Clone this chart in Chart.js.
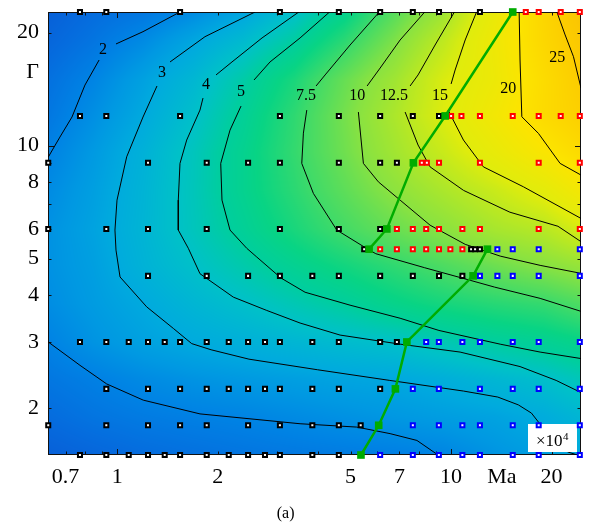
<!DOCTYPE html>
<html>
<head>
<meta charset="utf-8">
<script src="https://cdn.jsdelivr.net/npm/chart.js@4.4.0/dist/chart.umd.min.js"></script>
<style>
  html, body { margin: 0; padding: 0; background: #fff; }
</style>
</head>
<body>
<canvas id="nuChart" width="589" height="526"></canvas>
<script>
// Axis ticks (Ma in units of 1e4)
const xTickValues = [0.7, 1, 2, 5, 7, 10, 14.2, 20];
const xTickLabels = ['0.7', '1', '2', '5', '7', '10', 'Ma', '20'];
const yTickValues = [2, 3, 4, 5, 6, 8, 10, 15.7, 20];
const yTickLabels = ['2', '3', '4', '5', '6', '8', '10', 'Γ', '20'];
const xTickMarks = [0.7, 0.8, 0.9, 1, 2, 3, 4, 5, 6, 7, 8, 9, 10, 20];
const yTickMarks = [2, 3, 4, 5, 6, 7, 8, 9, 10, 20];

// Background field grid: Nu sampled at these Ma / Gamma nodes
const gridMa = [0.62, 0.85, 1.2, 1.7, 2.4, 3.4, 4.8, 6.8, 9.5, 13.5, 19, 24.5];
const gridGamma = [1.5, 1.9, 2.4, 3, 3.8, 4.8, 6, 7.6, 9.6, 12, 15, 19, 22.7];
const nuG1_5 = [1.2, 1.35, 1.5, 1.6, 1.7, 1.78, 1.85, 1.92, 2.05, 2.4, 2.7, 3.0];
const nuG1_9 = [1.5, 1.7, 1.85, 1.96, 2.05, 2.2, 2.35, 2.5, 2.65, 2.8, 3.1, 3.5];
const nuG2_4 = [1.75, 1.95, 2.2, 2.4, 2.55, 2.7, 2.85, 2.95, 3.2, 3.55, 3.9, 4.4];
const nuG3_0 = [2.0, 2.4, 2.75, 3.03, 3.26, 3.51, 3.76, 4.0, 4.49, 5.0, 5.4, 5.85];
const nuG3_8 = [2.25, 2.6, 3.0, 3.5, 3.95, 4.5, 5.05, 5.8, 6.4, 6.9, 7.3, 8.1];
const nuG4_8 = [2.35, 2.7, 3.35, 3.97, 4.7, 5.5, 6.3, 7.15, 8.06, 9.1, 10.05, 10.8];
const nuG6_0 = [2.35, 2.8, 3.45, 4.3, 5.3, 6.5, 7.75, 9.0, 10.2, 11.7, 12.6, 14.4];
const nuG7_6 = [2.2, 2.7, 3.4, 4.35, 5.6, 7.0, 8.6, 10.3, 11.9, 13.6, 15.7, 18.4];
const nuG9_6 = [1.98, 2.55, 3.3, 4.3, 5.6, 7.25, 9.2, 11.4, 13.6, 16.4, 19.5, 22];
const nuG12 = [1.75, 2.3, 3.0, 3.94, 5.29, 7.1, 9.4, 11.97, 14.8, 18.2, 22, 24.2];
const nuG15 = [1.6, 2.05, 2.75, 3.55, 4.8, 6.5, 8.9, 11.3, 14.6, 17.2, 21.8, 25];
const nuG19 = [1.35, 1.7, 2.2, 2.9, 3.7, 4.95, 7.0, 9.7, 13, 17.5, 22.7, 26];
const nuG22_7 = [1.2, 1.5, 1.75, 2.2, 2.85, 3.9, 5.6, 8.4, 11.2, 16.7, 23, 27];
const nuField = [nuG1_5, nuG1_9, nuG2_4, nuG3_0, nuG3_8, nuG4_8, nuG6_0,
                 nuG7_6, nuG9_6, nuG12, nuG15, nuG19, nuG22_7];

// Colour scale for Nu
const colourLevels = [1, 1.5, 2, 2.5, 3, 4, 5, 6, 7.5, 10, 12.5, 15, 20, 25, 30];
const colourRGB = [
  [10, 88, 212], [5, 108, 222], [0, 130, 228], [0, 152, 226], [0, 170, 222],
  [0, 193, 200], [0, 206, 158], [8, 212, 132], [60, 218, 106], [135, 226, 66],
  [182, 232, 36], [224, 236, 12], [252, 228, 0], [252, 204, 0], [246, 184, 8]
];

// Simulation runs: Gamma of each row and Ma of the runs in it
const gammaRows = [22.7, 12, 9, 6, 5.3, 4.5, 3, 2.25, 1.8, 1.5];
const blackMa = [
  [0.773, 0.927, 1.542, 3.07, 4.61, 6.13, 7.68, 9.2, 12.2],
  [0.773, 0.927, 1.542, 3.07, 4.61, 6.13, 7.68, 9.2],
  [0.621, 1.236, 1.853, 2.465, 3.07, 4.61, 6.13, 6.88],
  [0.621, 0.927, 1.236, 1.853, 3.07, 4.61, 6.13],
  [5.49, 11.48, 11.8, 12.2],
  [1.236, 1.853, 2.465, 3.07, 3.84, 4.61, 6.13, 7.68, 9.2, 10.81],
  [0.773, 0.927, 1.082, 1.236, 1.387, 1.542, 1.853, 2.157, 2.465, 2.77, 3.07, 3.84, 4.61, 6.13, 6.88],
  [0.927, 1.236, 1.542, 1.853, 2.157, 2.465, 2.77, 3.07, 3.84, 4.61, 6.13],
  [0.621, 0.927, 1.236, 1.542, 1.853, 2.465, 3.07, 3.84, 4.61, 5.36],
  [0.773, 0.927, 1.082, 1.236, 1.387, 1.542, 1.853, 2.157, 2.465, 2.77, 3.07, 3.84, 4.61]
];
const redMa = [
  [16.74, 18.3, 21.3, 24.3],
  [10.0, 10.74, 12.2, 15.3, 18.3, 21.3, 24.3],
  [8.17, 8.46, 9.2, 12.2, 18.3, 24.3],
  [6.88, 7.68, 8.42, 9.2, 10.81, 12.2, 18.3, 24.3],
  [6.13, 6.88, 7.68, 8.42, 9.2, 9.95, 10.81],
  [], [], [], [], []
];
const blueMa = [
  [], [], [], [],
  [13.76, 15.3, 18.3, 24.3],
  [12.2, 13.76, 15.3, 18.3, 24.3],
  [8.42, 9.19, 10.81, 12.2, 15.3, 18.3, 24.3],
  [7.68, 9.19, 12.2, 15.3, 18.3, 24.3],
  [7.68, 9.19, 10.81, 12.2, 15.3, 18.3, 24.3],
  [6.13, 7.68, 9.19, 10.81, 12.2, 15.3, 18.3, 24.3]
];

// Transition branches (green)
const greenUpperMa = [5.68, 6.42, 7.71, 9.6, 15.3];
const greenUpperGamma = [5.3, 6, 9, 12, 22.7];
const greenLowerMa = [5.37, 6.07, 6.81, 7.37, 11.64, 12.85];
const greenLowerGamma = [1.5, 1.8, 2.25, 3, 4.5, 5.3];

// Iso-Nu lines as [Ma, Gamma]; null marks the break under a label
const contour2a = [[1.541, 22.7], [1.194, 20.12], [0.991, 18.66], null,
  [0.882, 16.91], [0.80, 14.5], [0.7315, 11.92], [0.673, 10.54], [0.621, 9.32]];
const contour2b = [[0.621, 3.0], [0.773, 2.6], [0.929, 2.32], [1.196, 2.1], [1.769, 1.93],
  [3.528, 1.817], [5.217, 1.78], [6.565, 1.71], [7.9, 1.64], [9.142, 1.5]];
const contour3 = [[2.586, 22.7], [1.831, 19.51], [1.439, 16.71], null,
  [1.315, 14.42], [1.194, 11.92], [1.067, 9.34], [0.998, 7.16], [0.984, 5.96], [0.991, 5.27],
  [1.019, 4.47], [1.225, 3.72], [1.472, 3.26], [1.671, 2.97], [1.91, 2.86], [2.48, 2.7],
  [3.98, 2.53], [6.55, 2.37], [10.9, 2.22], [13.8, 2.14], [15.9, 2.04], [17.4, 1.94],
  [18.5, 1.81], [19.8, 1.64], [22.41, 1.527], [24.5, 1.49]];
const contour4 = [[3.497, 22.7], [2.714, 19.36], [2.206, 16.71], [1.976, 15.43], null,
  [1.806, 13.39], [1.769, 12.44], [1.614, 10.35], [1.541, 8.97], [1.523, 7.16], [1.523, 5.96],
  [1.632, 5.33], [1.769, 4.56], [2.226, 3.95], [2.804, 3.64], [3.528, 3.37], [4.65, 3.13],
  [7.035, 2.96], [10.64, 2.82], [16.09, 2.58], [20.64, 2.37], [24.5, 2.2]];
const contour5 = [[4.324, 22.7], [3.528, 19.36], [2.868, 16.71], [2.568, 14.96], null,
  [2.348, 12.75], [2.176, 11.0], [2.041, 8.97], [2.059, 7.16], [2.176, 5.96], [2.442, 5.33],
  [2.618, 5.05], [3.094, 4.44], [3.652, 4.07], [4.98, 3.76], [7.035, 3.47], [9.195, 3.22],
  [14.03, 2.96], [18.48, 2.82], [24.5, 2.71]];
const contour7_5 = [[6.093, 22.7], [4.982, 18.54], [4.193, 15.43], [3.94, 14.42], null,
  [3.695, 12.44], [3.61, 10.8], [3.57, 8.97], [3.868, 7.46], [4.545, 5.96], [5.591, 5.32],
  [5.948, 5.155], [8.336, 4.73], [11.4, 4.38], [13.5, 4.2], [18.48, 3.92], [24.5, 3.62]];
const contour10 = [[8.336, 22.7], [7.035, 19.12], [6.13, 16.1], [5.602, 14.42], null,
  [5.275, 12.29], [5.461, 8.97], [6.055, 8.01], [7.035, 7.16], [8.651, 6.14], [11.02, 5.46],
  [14.03, 5.08], [18.48, 4.8], [24.5, 4.57]];
const contour12_5 = [[10.23, 22.7], [8.954, 18.54], [7.962, 15.43], [7.536, 14.42], null,
  [7.282, 12.29], [7.962, 10.04], [8.651, 8.78], [10.9, 7.6], [15.0, 6.65], [20.9, 6.1],
  [24.5, 5.55]];
const contour15 = [[11.92, 22.7], [11.02, 19.12], [10.28, 15.9], [10.0, 14.6], null,
  [9.795, 12.44], [10.89, 10.35], [12.5, 8.78], [16.47, 7.77], [24.5, 6.4]];
const contour20 = [[15.99, 22.7], [16.09, 16.91], [16.29, 11.94], [18.27, 10.78],
  [21.21, 8.97], [24.5, 8.35]];
const contour25 = [[20.75, 22.7], [21.96, 19.72], [23.26, 17.26], [24.5, 14.24]];

const contourLabelText = ['2', '3', '4', '5', '7.5', '10', '12.5', '15', '20', '25'];
const contourLabelMa = [0.906, 1.361, 1.845, 2.348, 3.677, 5.23, 6.75, 9.27, 14.82, 20.78];
const contourLabelGamma = [17.99, 15.6, 14.5, 13.9, 13.6, 13.6, 13.6, 13.6, 14.2, 17.1];

const SERIF = '"Liberation Serif", "DejaVu Serif", serif';

function colourOf(v) {
  if (v <= colourLevels[0]) return colourRGB[0];
  const n = colourLevels.length;
  if (v >= colourLevels[n - 1]) return colourRGB[n - 1];
  let k = 0;
  while (v > colourLevels[k + 1]) k++;
  const t = (v - colourLevels[k]) / (colourLevels[k + 1] - colourLevels[k]);
  const a = colourRGB[k], b = colourRGB[k + 1];
  return [a[0] + (b[0] - a[0]) * t, a[1] + (b[1] - a[1]) * t, a[2] + (b[2] - a[2]) * t];
}

function locate(arr, v) {
  let k = 0;
  while (k < arr.length - 2 && v > arr[k + 1]) k++;
  const t = (v - arr[k]) / (arr[k + 1] - arr[k]);
  return [k, Math.max(0, Math.min(1, t))];
}

const rowPoints = rows => rows.flatMap((row, r) => row.map(m => ({ x: m, y: gammaRows[r] })));
const pairPoints = (ma, g) => ma.map((m, i) => ({ x: m, y: g[i] }));
const linePoints = line => line.map((p, i) => p ? { x: p[0], y: p[1] } : { x: line[i - 1][0], y: null });

// shaded Nu field, frame and inward ticks
const fieldPlugin = {
  id: 'nuField',
  beforeDatasetsDraw(chart) {
    const { ctx, chartArea: a, scales } = chart;
    const x0 = Math.round(a.left), y0 = Math.round(a.top);
    const w = Math.round(a.right) - x0, h = Math.round(a.bottom) - y0;
    const img = ctx.createImageData(w, h);
    const lMa = gridMa.map(Math.log10), lG = gridGamma.map(Math.log10);
    const cols = [];
    for (let i = 0; i < w; i++) {
      cols.push(locate(lMa, Math.log10(scales.x.getValueForPixel(x0 + i + 0.5))));
    }
    for (let j = 0; j < h; j++) {
      const [r, s] = locate(lG, Math.log10(scales.y.getValueForPixel(y0 + j + 0.5)));
      const lo = nuField[r], hi = nuField[r + 1];
      for (let i = 0; i < w; i++) {
        const [k, t] = cols[i];
        const v0 = lo[k] + (lo[k + 1] - lo[k]) * t;
        const v1 = hi[k] + (hi[k + 1] - hi[k]) * t;
        const c = colourOf(v0 + (v1 - v0) * s);
        const p = (j * w + i) * 4;
        img.data[p] = c[0]; img.data[p + 1] = c[1]; img.data[p + 2] = c[2]; img.data[p + 3] = 255;
      }
    }
    ctx.putImageData(img, x0, y0);

    ctx.save();
    ctx.strokeStyle = '#111';
    ctx.lineWidth = 1;
    ctx.strokeRect(x0 + 0.5, y0 + 0.5, w - 1, h - 1);
    ctx.beginPath();
    xTickMarks.forEach(v => {
      const px = Math.round(scales.x.getPixelForValue(v)) + 0.5;
      const len = Number.isInteger(Math.log10(v)) ? 6 : 3.5;
      ctx.moveTo(px, a.bottom); ctx.lineTo(px, a.bottom - len);
      ctx.moveTo(px, a.top); ctx.lineTo(px, a.top + len);
    });
    yTickMarks.forEach(v => {
      const py = Math.round(scales.y.getPixelForValue(v)) + 0.5;
      const len = Number.isInteger(Math.log10(v)) ? 6 : 3.5;
      ctx.moveTo(a.left, py); ctx.lineTo(a.left + len, py);
      ctx.moveTo(a.right, py); ctx.lineTo(a.right - len, py);
    });
    ctx.stroke();
    ctx.restore();
    chart.$boxDrawn = false;
  },
  // the x1e4 note sits above the iso-lines but under the run markers
  beforeDatasetDraw(chart, args) {
    if (chart.$boxDrawn || !chart.data.datasets[args.index].isRun) return;
    chart.$boxDrawn = true;
    const { ctx, chartArea: a } = chart;
    ctx.save();
    ctx.fillStyle = '#fff';
    ctx.fillRect(a.right - 53, a.bottom - 31, 49, 28);
    ctx.fillStyle = '#000';
    ctx.font = '17px ' + SERIF;
    ctx.textBaseline = 'alphabetic';
    const bx = a.right - 45;
    ctx.fillText('×10', bx, a.bottom - 9);
    const tw = ctx.measureText('×10').width;
    ctx.font = '11px ' + SERIF;
    ctx.fillText('4', bx + tw + 0.5, a.bottom - 15);
    ctx.restore();
  },
  afterDatasetsDraw(chart) {
    const { ctx, scales } = chart;
    ctx.save();
    ctx.fillStyle = '#000';
    ctx.font = '16px ' + SERIF;
    ctx.textAlign = 'center';
    ctx.textBaseline = 'middle';
    contourLabelText.forEach((t, i) => {
      ctx.fillText(t, scales.x.getPixelForValue(contourLabelMa[i]),
                   scales.y.getPixelForValue(contourLabelGamma[i]));
    });
    ctx.textBaseline = 'alphabetic';
    ctx.fillText('(a)', chart.width * 0.485, 518);
    ctx.restore();
  }
};

const contourSets = [contour2a, contour2b, contour3, contour4, contour5, contour7_5,
  contour10, contour12_5, contour15, contour20, contour25].map(c => ({
  data: linePoints(c), showLine: true, borderColor: '#000', borderWidth: 1,
  pointRadius: 0, tension: 0, order: 3
}));

const runSet = (rows, colour) => ({
  isRun: true, data: rowPoints(rows), pointStyle: 'rect', pointRadius: 2.85,
  pointBorderWidth: 2, pointBorderColor: colour, pointBackgroundColor: '#fff',
  clip: false, order: 2
});

const greenSet = (ma, g) => ({
  data: pairPoints(ma, g), showLine: true, borderColor: 'rgb(0,172,0)', borderWidth: 2.5,
  pointStyle: 'rect', pointRadius: 5.4, pointBorderWidth: 0,
  pointBackgroundColor: 'rgb(0,172,0)', clip: false, order: 1
});

const tickFont = { family: SERIF, size: 22 };

new Chart(document.getElementById('nuChart'), {
  type: 'scatter',
  data: {
    datasets: [
      greenSet(greenUpperMa, greenUpperGamma),
      greenSet(greenLowerMa, greenLowerGamma),
      runSet(blackMa, '#000'),
      runSet(redMa, 'rgb(255,0,0)'),
      runSet(blueMa, 'rgb(0,0,255)'),
      ...contourSets
    ]
  },
  options: {
    responsive: false,
    animation: false,
    events: [],
    layout: { padding: { top: 12, right: 8, left: 0, bottom: 0 } },
    plugins: { legend: { display: false }, tooltip: { enabled: false } },
    scales: {
      x: {
        type: 'logarithmic', min: 0.62, max: 24.5, bounds: 'data',
        grid: { display: false, drawTicks: false }, border: { display: false },
        ticks: { autoSkip: false, maxRotation: 0, padding: 9, color: '#000', font: tickFont,
                 callback: (v, i) => xTickLabels[i] },
        afterBuildTicks: s => { s.ticks = xTickValues.map(v => ({ value: v })); },
        afterFit: s => { s.height = 71; s.paddingLeft = 0; s.paddingRight = 0; }
      },
      y: {
        type: 'logarithmic', min: 1.5, max: 22.7, bounds: 'data',
        grid: { display: false, drawTicks: false }, border: { display: false },
        ticks: { autoSkip: false, padding: 9, color: '#000', font: tickFont,
                 callback: (v, i) => yTickLabels[i] },
        afterBuildTicks: s => { s.ticks = yTickValues.map(v => ({ value: v })); },
        afterFit: s => { s.width = 48; s.paddingTop = 0; s.paddingBottom = 0; }
      }
    }
  },
  plugins: [fieldPlugin]
});
</script>
</body>
</html>
